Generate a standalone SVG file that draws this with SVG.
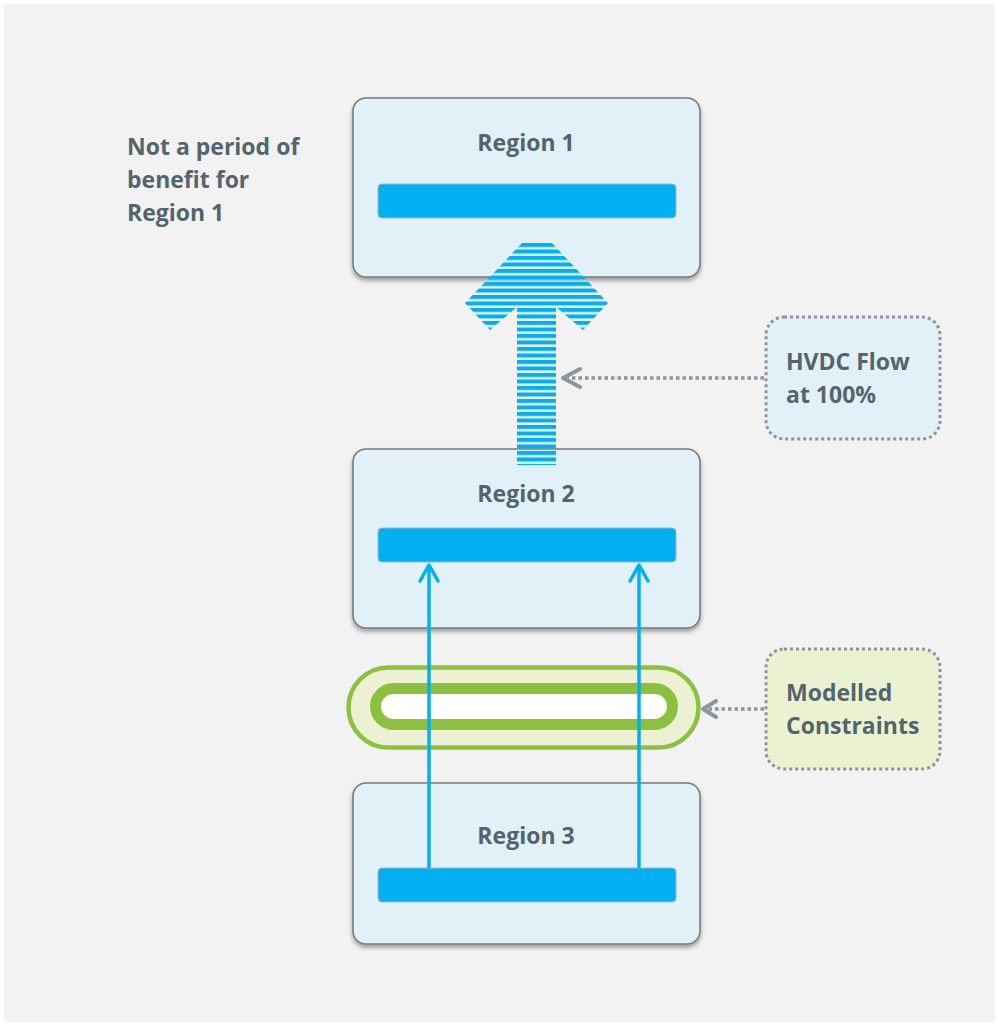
<svg xmlns="http://www.w3.org/2000/svg" width="998" height="1025" viewBox="0 0 998 1025">
<defs>
<style>
.region{fill:#e1f1f7;stroke:#7a7a7a;stroke-width:1.6;filter:url(#sh)}
.bar{fill:#00b0f0;stroke:#9fb3bd;stroke-width:1}
.t{font-family:"Open Sans","Liberation Sans",sans-serif;font-weight:700;font-size:23px;fill:#54646d}
.callout{stroke:#8c959b;stroke-width:3;stroke-dasharray:3 3}
.dot{fill:none;stroke:#8c959b;stroke-width:3.5;stroke-dasharray:3.5 3}
.head{fill:none;stroke:#8c959b;stroke-width:4;stroke-linecap:round;stroke-linejoin:round}
.blue{fill:none;stroke:#00b0f0;stroke-width:3.5}
.bluehead{fill:none;stroke:#00b0f0;stroke-width:3.5;stroke-linecap:round;stroke-linejoin:round}
</style>
<filter id="sh" x="-10%" y="-10%" width="120%" height="125%">
<feDropShadow dx="0" dy="3" stdDeviation="2.2" flood-color="#000" flood-opacity="0.35"/>
</filter>
<pattern id="stripes" patternUnits="userSpaceOnUse" x="0" y="243" width="10" height="6.5">
<rect x="0" y="0" width="10" height="4" fill="#00b0f0"/>
</pattern>
</defs>
<rect x="4" y="4" width="991" height="1018" fill="#f2f2f2"/>

<g id="note">
<text class="t" x="127" y="155">Not a period of</text>
<text class="t" x="127" y="188">benefit for</text>
<text class="t" x="127" y="221">Region 1</text>
</g>

<g id="region1">
<rect class="region" x="353" y="98" width="347" height="179" rx="13"/>
<text class="t" x="526" y="151" text-anchor="middle">Region 1</text>
<rect class="bar" x="378" y="184" width="298" height="34" rx="4"/>
</g>

<g id="region2">
<rect class="region" x="353" y="449" width="347" height="179" rx="13"/>
<text class="t" x="526" y="502" text-anchor="middle">Region 2</text>
<rect class="bar" x="378" y="528" width="298" height="34" rx="4"/>
</g>

<g id="region3">
<rect class="region" x="353" y="783" width="347" height="161" rx="13"/>
<text class="t" x="526" y="844" text-anchor="middle">Region 3</text>
<rect class="bar" x="378" y="868" width="298" height="34" rx="4"/>
</g>

<g id="constraint">
<rect x="348.5" y="667.5" width="350" height="80" rx="40" fill="#ebf1d2" stroke="#8dc03f" stroke-width="4.5"/>
<rect x="375.5" y="688.5" width="297" height="36" rx="18" fill="#ffffff" stroke="#8dc03f" stroke-width="11"/>
</g>

<g id="hvdc-arrow">
<path d="M522,243 L552,243 L608,303 L583,330 L556,307 L556,465 L517,465 L517,307 L490,330 L465,303 Z" fill="url(#stripes)"/>
</g>

<g id="callout-hvdc">
<rect class="callout" x="766" y="317" width="174" height="122" rx="18" fill="#e1f1f7"/>
<text class="t" x="786" y="370">HVDC Flow</text>
<text class="t" x="786" y="403">at 100%</text>
</g>

<g id="callout-constraints">
<rect class="callout" x="766" y="649" width="174" height="120" rx="18" fill="#ebf2d2"/>
<text class="t" x="786" y="701">Modelled</text>
<text class="t" x="786" y="734">Constraints</text>
</g>

<g id="connectors">
<line class="blue" x1="429" y1="868" x2="429" y2="565"/>
<path class="bluehead" d="M420,581 L429,565 L438,581"/>
<line class="blue" x1="639" y1="868" x2="639" y2="565"/>
<path class="bluehead" d="M630,581 L639,565 L648,581"/>
<line class="dot" x1="764" y1="378" x2="568" y2="378"/>
<path class="head" d="M580,369 L563,378 L580,387"/>
<line class="dot" x1="764" y1="709" x2="708" y2="709"/>
<path class="head" d="M716,701 L703,709 L716,717"/>
</g>
</svg>
